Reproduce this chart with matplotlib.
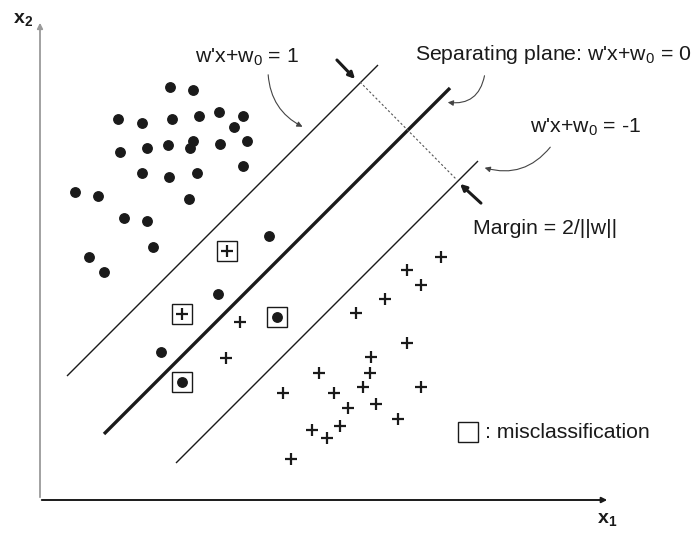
import matplotlib
matplotlib.use('Agg')
import matplotlib.pyplot as plt

plt.rcParams['font.family'] = ['Liberation Sans', 'DejaVu Sans']
plt.rcParams['mathtext.fontset'] = 'custom'
plt.rcParams['mathtext.rm'] = 'Liberation Sans'
plt.rcParams['mathtext.it'] = 'Liberation Sans'
plt.rcParams['mathtext.bf'] = 'Liberation Sans:bold'

# class "dot" points (picture coordinates, y down)
dot_x = [170, 193, 118, 142, 172, 199, 219, 243, 234, 247, 220, 193, 190, 168, 147, 120,
         142, 169, 197, 243, 75, 98, 189, 124, 147, 153, 89, 104, 269, 218, 161]
dot_y = [87, 90, 119, 123, 119, 116, 112, 116, 127, 141, 144, 141, 148, 145, 148, 152,
         173, 177, 173, 166, 192, 196, 199, 218, 221, 247, 257, 272, 236, 294, 352]

# class "plus" points
plus_x = [407, 441, 421, 385, 356, 407, 371, 370, 363, 421, 319, 283, 334, 348, 376,
          398, 312, 327, 340, 291, 240, 226]
plus_y = [270, 257, 285, 299, 313, 343, 357, 373, 387, 387, 373, 393, 393, 408, 404,
          419, 430, 438, 426, 459, 322, 358]

# misclassified points
mis_plus_x = [227, 182]
mis_plus_y = [251, 314]
mis_dot_x = [277, 182]
mis_dot_y = [317, 382]

# margin lines: x-extents and offset (x + y = c)
line_x0 = [67, 104, 176]
line_x1 = [378, 450, 478]
line_c = [443, 538, 639]
line_w = [1.0, 2.4, 1.0]

fig = plt.figure(figsize=(6.95, 5.33), dpi=100)
ax = fig.add_axes([0, 0, 1, 1])
ax.set_xlim(0, 695)
ax.set_ylim(533, 0)
ax.axis('off')

ink = '#1a1a1a'

# axes arrows
ax.annotate('', xy=(40, 20), xytext=(40, 500),
            arrowprops=dict(arrowstyle='-|>', color='#9a9a9a', lw=1.3, mutation_scale=8))
ax.annotate('', xy=(610, 500), xytext=(39, 500),
            arrowprops=dict(arrowstyle='-|>', color=ink, lw=1.4, mutation_scale=8))
ax.text(23, 20, r'$\mathbf{x}_\mathbf{2}$', fontsize=14, ha='center', va='center', color=ink)
ax.text(607, 520, r'$\mathbf{x}_\mathbf{1}$', fontsize=14, ha='center', va='center', color=ink)

# hyperplanes
for x0, x1, c, w in zip(line_x0, line_x1, line_c, line_w):
    ax.plot([x0, x1], [c - x0, c - x1], color=ink, lw=w, solid_capstyle='butt')

# margin
ax.plot([360, 457], [82, 180], color='#555555', lw=0.8, ls=(0, (2, 2)))
ax.annotate('', xy=(357, 81), xytext=(335, 58),
            arrowprops=dict(arrowstyle='-|>', color=ink, lw=2.2, mutation_scale=9))
ax.annotate('', xy=(458, 182), xytext=(483, 205),
            arrowprops=dict(arrowstyle='-|>', color=ink, lw=2.2, mutation_scale=9))

# points
ax.plot(dot_x, dot_y, 'o', color=ink, ms=6.8, ls='none')
ax.plot(plus_x, plus_y, '+', color=ink, ms=8.5, mew=1.6, ls='none')
ax.plot(mis_plus_x, mis_plus_y, '+', color=ink, ms=8.5, mew=1.6, ls='none')
ax.plot(mis_dot_x, mis_dot_y, 'o', color=ink, ms=6.8, ls='none')
ax.plot(mis_plus_x + mis_dot_x, mis_plus_y + mis_dot_y, 's', ms=15, mfc='none',
        mec=ink, mew=1.0, ls='none')

# labels with curved arrows
lab = dict(fontsize=15.3, color=ink)
arr = dict(arrowstyle='-|>', color='#444444', lw=0.8, mutation_scale=8)
ax.text(247, 57, r"w'x+w$_\mathrm{0}$ = 1", ha='center', va='center', **lab)
ax.annotate('', xy=(305, 128), xytext=(268, 72),
            arrowprops=dict(connectionstyle='arc3,rad=0.3', **arr))
ax.text(553, 55, r"Separating plane: w'x+w$_\mathrm{0}$ = 0", ha='center', va='center', **lab)
ax.annotate('', xy=(445, 102), xytext=(485, 73),
            arrowprops=dict(connectionstyle='arc3,rad=-0.5', **arr))
ax.text(585, 127, r"w'x+w$_\mathrm{0}$ = -1", ha='center', va='center', **lab)
ax.annotate('', xy=(482, 167), xytext=(552, 145),
            arrowprops=dict(connectionstyle='arc3,rad=-0.35', **arr))
ax.text(545, 229, 'Margin = 2/||w||', ha='center', va='center', **lab)

# legend
ax.plot([468], [432], 's', ms=15, mfc='none', mec=ink, mew=1.0)
ax.text(485, 432, ': misclassification', ha='left', va='center', **lab)

fig.savefig('out.png', dpi=100, facecolor='white')
